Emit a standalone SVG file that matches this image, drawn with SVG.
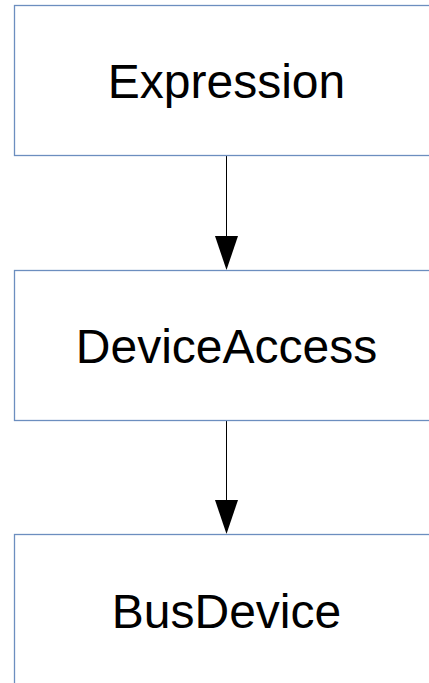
<svg xmlns="http://www.w3.org/2000/svg" width="429" height="683" viewBox="0 0 429 683">
<style>
.box{fill:#ffffff;stroke:#6c8ebf;stroke-width:1.3}
.lbl{font-family:"Liberation Sans",Arial,sans-serif;font-size:48px;fill:#000;text-anchor:middle}
.edge{stroke:#000;stroke-width:1;fill:none}
</style>
<rect width="429" height="683" fill="#ffffff"/>
<g id="connectors">
<line class="edge" x1="226.5" y1="156" x2="226.5" y2="236"/>
<path d="M215,236 L238,236 L226.5,270 Z" fill="#000"/>
<line class="edge" x1="226.5" y1="420" x2="226.5" y2="500"/>
<path d="M215,500 L238,500 L226.5,534 Z" fill="#000"/>
</g>
<g id="node-expression">
<rect class="box" x="14.5" y="5.5" width="424" height="150"/>
<text class="lbl" x="226.5" y="98">Expression</text>
</g>
<g id="node-deviceaccess">
<rect class="box" x="14.5" y="270.5" width="424" height="150"/>
<text class="lbl" x="226.5" y="363">DeviceAccess</text>
</g>
<g id="node-busdevice">
<rect class="box" x="14.5" y="534.5" width="424" height="150"/>
<text class="lbl" x="226.5" y="628">BusDevice</text>
</g>
</svg>
